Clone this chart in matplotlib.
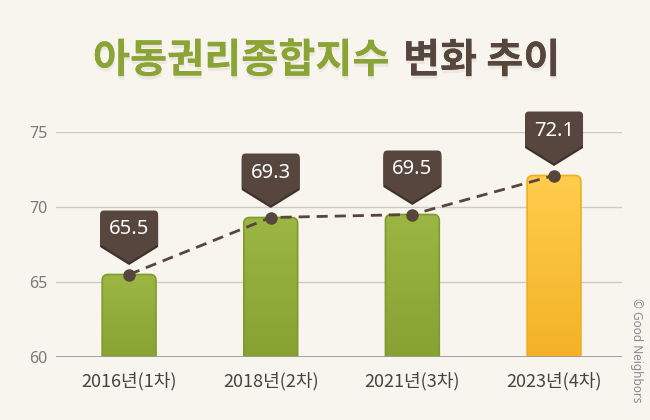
import numpy as np
import matplotlib
matplotlib.use("Agg")
import matplotlib.pyplot as plt
import matplotlib.patheffects as pe
import matplotlib.transforms as mtransforms
from matplotlib.patches import FancyBboxPatch
from matplotlib.path import Path
from matplotlib.patches import PathPatch

plt.rcParams['font.family'] = ['Noto Sans CJK KR', 'DejaVu Sans']

# data
categories = ["2016년(1차)", "2018년(2차)", "2021년(3차)", "2023년(4차)"]
values = [65.5, 69.3, 69.5, 72.1]
highlight = [False, False, False, True]
yticks = [60, 65, 70, 75]

BG = "#f8f5ee"
BROWN = "#56463d"
GREEN_TOP, GREEN_BOT, GREEN_EDGE = "#9bb642", "#85a02f", "#7f9a2c"
YEL_TOP, YEL_BOT, YEL_EDGE = "#ffcd4c", "#f2b024", "#f0ad22"

W, H = 650, 420
fig = plt.figure(figsize=(W / 100, H / 100), dpi=100, facecolor=BG)
ax = fig.add_axes([56 / W, 63 / H, 566 / W, 225 / H], facecolor=BG)
ax.set_xlim(-0.516, 3.48)
ax.set_ylim(60, 75)

# grid & axes
ax.set_yticks(yticks)
ax.set_xticks(range(len(categories)))
ax.set_xticklabels(categories, fontsize=13, color="#444444")
ax.set_yticklabels([str(t) for t in yticks], fontsize=11.5, color="#7a7a7a",
                   family=["Noto Sans", "DejaVu Sans"], fontweight="light")
ax.tick_params(length=0)
ax.tick_params(axis="x", pad=11)
ax.tick_params(axis="y", pad=6)
for s in ax.spines.values():
    s.set_visible(False)
for t in yticks[1:]:
    ax.axhline(t, color="#cfcac3", lw=1, zorder=0)
ax.axhline(60, color="#9a9a9a", lw=2, zorder=5)

# bars with gradient & rounded top
bw = 0.38
asp = (566 / 4.0) / 15.0  # px per x-unit / px per y-unit
for i, (v, hl) in enumerate(zip(values, highlight)):
    top, bot, edge = (YEL_TOP, YEL_BOT, YEL_EDGE) if hl else (GREEN_TOP, GREEN_BOT, GREEN_EDGE)
    patch = FancyBboxPatch((i - bw / 2, 59), bw, v - 59,
                           boxstyle="round,pad=0,rounding_size=0.042",
                           mutation_aspect=asp, facecolor="none",
                           edgecolor=edge, lw=1.2, zorder=3)
    ax.add_patch(patch)
    c1 = np.array(matplotlib.colors.to_rgb(top))
    c2 = np.array(matplotlib.colors.to_rgb(bot))
    grad = np.linspace(0, 1, 100)[:, None, None]
    img = c1 * (1 - grad) + c2 * grad
    im = ax.imshow(img, extent=(i - bw / 2, i + bw / 2, 59, v), origin="upper",
                   aspect="auto", zorder=2, interpolation="bilinear")
    im.set_clip_path(patch)

ax.set_xlim(-0.516, 3.48)
ax.set_ylim(60, 75)

# dashed trend line with markers
x = np.arange(len(values))
ax.plot(x, values, color=BROWN, lw=2, ls=(0, (4, 2.5)), zorder=6,
        marker="o", markersize=8, markerfacecolor=BROWN, markeredgecolor=BROWN,
        clip_on=False)

# callouts
hw, body_bot, body_top, tip, r = 29, 30, 64, 12, 4
verts = [(0, tip), (-hw, body_bot), (-hw, body_top - r), (-hw, body_top),
         (-hw + r, body_top), (hw - r, body_top), (hw, body_top),
         (hw, body_top - r), (hw, body_bot), (0, tip), (0, tip)]
codes = [Path.MOVETO, Path.LINETO, Path.LINETO, Path.CURVE3, Path.CURVE3,
         Path.LINETO, Path.CURVE3, Path.CURVE3, Path.LINETO, Path.LINETO,
         Path.CLOSEPOLY]
path = Path(verts, codes)
for i, v in enumerate(values):
    px, py = ax.transData.transform((i, v))
    sh = PathPatch(path, transform=mtransforms.Affine2D().translate(px, py - 2.5),
                   facecolor="#3e312a", edgecolor="none", zorder=7)
    fig.add_artist(sh)
    box = PathPatch(path, transform=mtransforms.Affine2D().translate(px, py),
                    facecolor=BROWN, edgecolor="none", zorder=8)
    fig.add_artist(box)
    fig.text(px / W, (py + 45) / H, f"{v:.1f}", ha="center", va="center",
             fontsize=14.5, color="white", family=["Noto Sans", "DejaVu Sans"],
             zorder=9)

# title
shadow = [pe.withSimplePatchShadow(offset=(0.5, -2.5), shadow_rgbFace="#5a4a30", alpha=0.07),
          pe.Normal()]
fig.text(389 / W, 1 - 61 / H, "아동권리종합지수", ha="right", va="center",
         fontsize=29, fontweight="bold", color="#8aa435", path_effects=shadow)
fig.text(403 / W, 1 - 61 / H, "변화 추이", ha="left", va="center",
         fontsize=29, fontweight="bold", color=BROWN, path_effects=shadow)

# credit
fig.text(636 / W, 1 - 350 / H, "© Good Neighbors", rotation=-90, ha="center",
         va="center", fontsize=8.5, color="#8a8a8a",
         family=["Noto Sans", "DejaVu Sans"])

fig.savefig("out.png", dpi=100, facecolor=BG)
